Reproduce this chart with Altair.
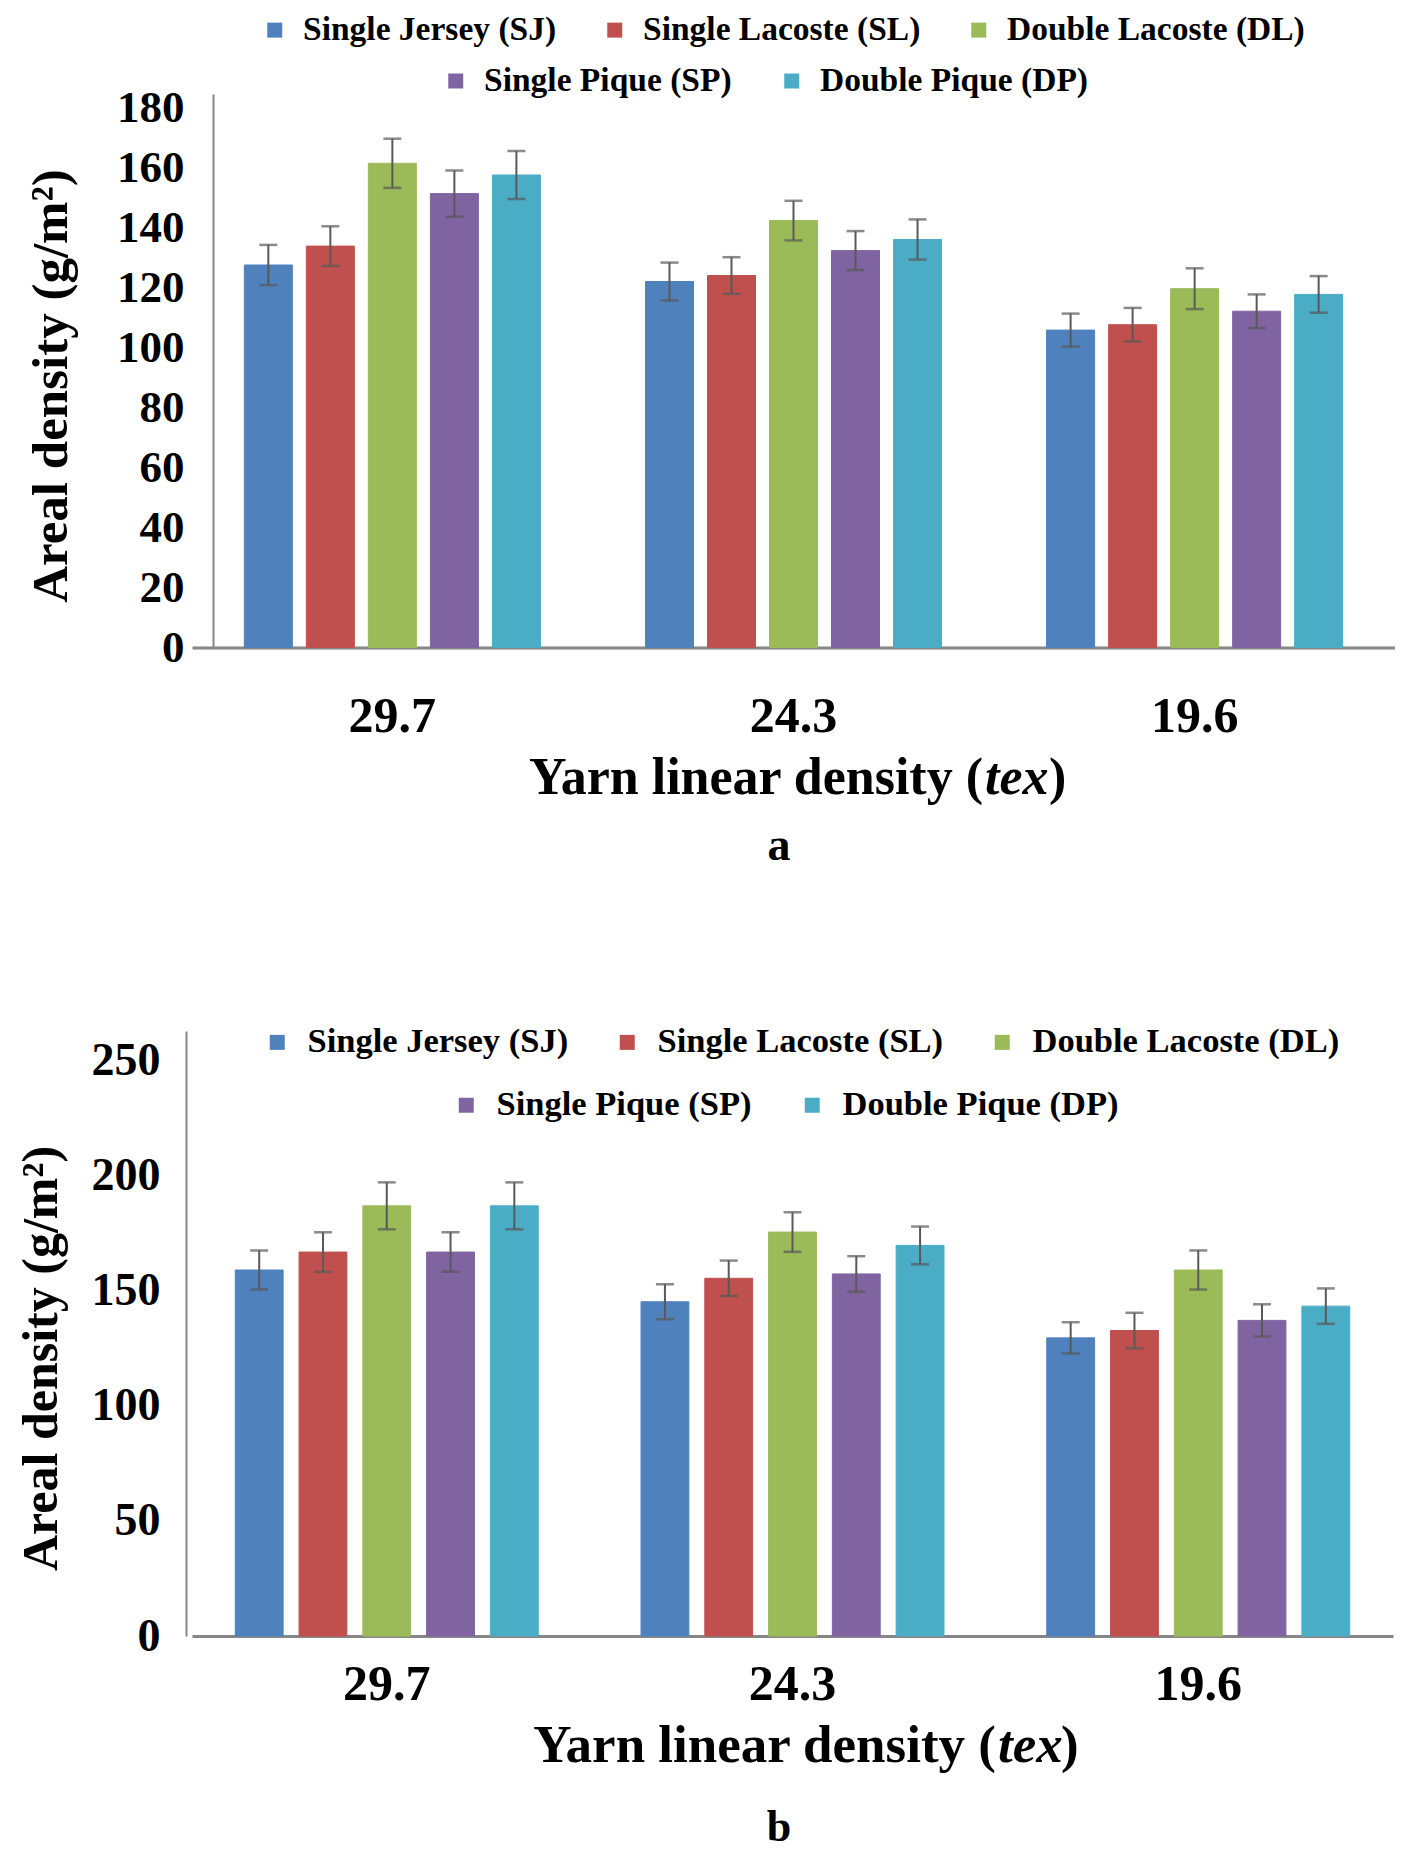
import altair as alt
import pandas as pd

FONT = "Liberation Serif"

categories = ["29.7", "24.3", "19.6"]
series = ["Single Jersey (SJ)", "Single Lacoste (SL)", "Double Lacoste (DL)",
          "Single Pique (SP)", "Double Pique (DP)"]
colors = ["#4F81BD", "#C0504D", "#9BBB59", "#8064A2", "#4BACC6"]

# ---- Panel a: areal density (g/m2), values per series across categories
a_sj = [127.5, 122.0, 105.8]
a_sl = [133.8, 124.0, 107.6]
a_dl = [161.4, 142.3, 119.6]
a_sp = [151.3, 132.3, 112.1]
a_dp = [157.5, 136.0, 117.7]
a_sj_err = [6.7, 6.3, 5.5]
a_sl_err = [6.6, 6.1, 5.6]
a_dl_err = [8.2, 6.6, 6.8]
a_sp_err = [7.7, 6.5, 5.6]
a_dp_err = [8.0, 6.7, 6.1]
a_ticks = [0, 20, 40, 60, 80, 100, 120, 140, 160, 180]

# ---- Panel b
b_sj = [159.1, 145.3, 129.6]
b_sl = [166.9, 155.5, 132.8]
b_dl = [187.0, 175.6, 159.1]
b_sp = [166.9, 157.4, 137.2]
b_dp = [187.0, 169.8, 143.4]
b_sj_err = [8.5, 7.6, 6.8]
b_sl_err = [8.6, 7.7, 7.7]
b_dl_err = [10.2, 8.6, 8.5]
b_sp_err = [8.6, 7.7, 7.0]
b_dp_err = [10.2, 8.2, 7.7]
b_ticks = [0, 50, 100, 150, 200, 250]


def build(means, errs):
    rows = []
    for s, m, e in zip(series, means, errs):
        for c, v, ev in zip(categories, m, e):
            rows.append({"cat": c, "series": s, "series2": s, "value": v,
                         "lo": v - ev, "hi": v + ev})
    return pd.DataFrame(rows)


df_a = build([a_sj, a_sl, a_dl, a_sp, a_dp],
             [a_sj_err, a_sl_err, a_dl_err, a_sp_err, a_dp_err])
df_b = build([b_sj, b_sl, b_dl, b_sp, b_dp],
             [b_sj_err, b_sl_err, b_dl_err, b_sp_err, b_dp_err])

stroke_domain = series[3:] + series[:3]
stroke_range = colors[3:] + colors[:3]


def text_layer(txt, x, y, size, align="center", style="normal"):
    return alt.Chart(pd.DataFrame({"t": [txt]})).mark_text(
        text=txt, font=FONT, fontSize=size, fontWeight="bold", fontStyle=style,
        align=align, baseline="middle", color="black"
    ).encode(x=alt.value(x), y=alt.value(y))


def panel(df, p):
    base = alt.Chart(df)
    x = alt.X("cat:N", sort=categories, title=None,
              scale=alt.Scale(paddingInner=p["pi"], paddingOuter=p["po"]),
              axis=alt.Axis(labelAngle=0, ticks=False, grid=False,
                            domainColor="#868686", domainWidth=3,
                            labelFont=FONT, labelFontSize=p["xls"],
                            labelFontWeight="bold", labelColor="black",
                            labelPadding=p["xlp"]))
    xo = alt.XOffset("series:N", sort=series,
                     scale=alt.Scale(paddingInner=p["bpi"], paddingOuter=p["bpi"] / 2))
    y = alt.Y("value:Q",
              scale=alt.Scale(domain=[0, p["ymax"]], nice=False, zero=True),
              axis=alt.Axis(values=p["ticks"], ticks=False, grid=False,
                            domainColor="#868686", domainWidth=2,
                            offset=p["yoff"],
                            labelFont=FONT, labelFontSize=p["yls"],
                            labelFontWeight="bold", labelColor="black",
                            labelPadding=p["ylp"],
                            title="Areal density (g/m²)", titleFont=FONT,
                            titleFontSize=p["yts"], titleFontWeight="bold",
                            titleColor="black", titleX=p["ytx"], titleY=p["yty"],
                            titleAlign="center", titleBaseline="middle"))
    bars = base.mark_bar(strokeWidth=1).encode(
        x=x, xOffset=xo, y=y,
        fill=alt.Fill("series:N", scale=alt.Scale(domain=series, range=colors),
                      legend=alt.Legend(orient="none", legendX=p["l1x"], legendY=p["l1y"],
                                        direction="horizontal", title=None,
                                        values=series[:3], symbolType="square",
                                        symbolSize=225, symbolStrokeWidth=0,
                                        labelFont=FONT, labelFontSize=p["lfs"],
                                        labelFontWeight="bold", labelColor="black",
                                        labelLimit=800, labelOffset=p["loff"],
                                        columnPadding=p["cpad"])),
        stroke=alt.Stroke("series2:N",
                          scale=alt.Scale(domain=stroke_domain, range=stroke_range),
                          legend=alt.Legend(orient="none", legendX=p["l2x"], legendY=p["l2y"],
                                            direction="horizontal", title=None,
                                            values=series[3:], symbolType="square",
                                            symbolSize=56, symbolStrokeWidth=7.5,
                                            labelFont=FONT, labelFontSize=p["lfs"],
                                            labelFontWeight="bold", labelColor="black",
                                            labelLimit=800, labelOffset=p["loff"],
                                            columnPadding=p["cpad"])),
    )
    rule = base.mark_rule(color="#595959", strokeWidth=2).encode(
        x=x, xOffset=xo, y=alt.Y("lo:Q"), y2="hi:Q")
    cap_lo = base.mark_tick(color="#595959", thickness=2.5, size=18).encode(
        x=x, xOffset=xo, y=alt.Y("lo:Q"))
    cap_hi = base.mark_tick(color="#595959", thickness=2.5, size=18).encode(
        x=x, xOffset=xo, y=alt.Y("hi:Q"))
    t1 = text_layer("Yarn linear density (", p["tx1"], p["ty"], p["xts"], align="right")
    t2 = text_layer("tex", p["tx1"] + 2, p["ty"], p["xts"], align="left", style="italic")
    t3 = text_layer(")", p["tx3"], p["ty"], p["xts"], align="left")
    letter = text_layer(p["letter"], p["lx"], p["ly"], p["lsz"])
    return alt.layer(bars, rule, cap_lo, cap_hi, t1, t2, t3, letter).properties(
        width=p["W"], height=p["H"])


pa = dict(pi=0.227, po=0.113, bpi=0.226, ymax=184.5, ticks=a_ticks, W=1203, H=553.5,
          xls=50, xlp=44, yoff=-21, ylp=29, yls=45, yts=51, ytx=-162, yty=291.5,
          l1x=66, l1y=-81, l2x=247, l2y=-30, lfs=33.5, loff=11.5, cpad=41,
          tx1=791, tx3=857, ty=683.5, xts=52, letter="a", lx=587, ly=751.5, lsz=46)
pb = dict(pi=0.214, po=0.087, bpi=0.25, ymax=263, ticks=b_ticks, W=1201, H=605,
          xls=50, xlp=23, yoff=6, ylp=26, yls=46, yts=50, ytx=-145, yty=327,
          l1x=68, l1y=-6, l2x=257, l2y=57, lfs=34.5, loff=13, cpad=41,
          tx1=804, tx3=869, ty=715, xts=53, letter="b", lx=587, ly=797, lsz=44)

top = panel(df_a, pa)
bottom = panel(df_b, pb)

chart = alt.vconcat(top, bottom, spacing=156).resolve_scale(
    x="independent", y="independent", xOffset="independent",
    fill="independent", stroke="independent"
).resolve_legend(fill="independent", stroke="independent").configure_view(
    stroke=None
).properties(padding={"left": 8, "top": 5, "right": 0, "bottom": 0})

chart.save("out.html", embed_options={"renderer": "svg", "actions": False})
